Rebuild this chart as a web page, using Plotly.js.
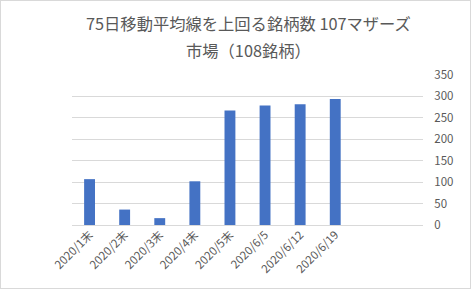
<!DOCTYPE html>
<html><head><meta charset="utf-8">
<script src="https://cdn.plot.ly/plotly-3.0.1.min.js"></script>
<style>
html,body{margin:0;padding:0;background:#fff;}
#chart{width:469px;height:287px;border:1px solid #d9d9d9;}
</style></head>
<body><div id="chart"></div>
<script>
const categories = ["2020/1末","2020/2末","2020/3末","2020/4末","2020/5末","2020/6/5","2020/6/12","2020/6/19"];
const counts = [107, 36, 16, 102, 267, 279, 282, 294];
const yTicks = [0, 50, 100, 150, 200, 250, 300, 350];
const titleLine1 = "75日移動平均線を上回る銘柄数 107マザーズ";
const titleLine2 = "市場（108銘柄）";

const font = "'Noto Sans CJK JP', 'Noto Sans', sans-serif";
const grey = "#595959";

Plotly.newPlot("chart", [{
  type: "bar",
  x: categories,
  y: counts,
  marker: {color: "#4472c4"},
  hoverinfo: "none"
}], {
  width: 469, height: 287,
  margin: {l: 71, r: 47, t: 74, b: 63, pad: 0},
  paper_bgcolor: "#fff", plot_bgcolor: "#fff",
  bargap: 0.69,
  showlegend: false,
  font: {family: font, color: grey, size: 12},
  xaxis: {
    type: "category",
    range: [-0.5, 9.5],
    tickangle: -45,
    showgrid: false,
    zeroline: false,
    showline: false,
    ticks: "",
    tickfont: {size: 11.5, color: grey, family: font}
  },
  yaxis: {
    side: "right",
    range: [0, 350],
    tickvals: yTicks,
    ticktext: yTicks.map(String),
    showgrid: true,
    gridcolor: "#d9d9d9",
    gridwidth: 1,
    zeroline: true,
    zerolinecolor: "#d9d9d9",
    showline: false,
    ticks: "outside",
    ticklen: 8,
    tickcolor: "rgba(0,0,0,0)",
    tickfont: {size: 11.5, color: grey, family: font}
  },
  annotations: [
    {text: titleLine1, xref: "paper", yref: "paper", x: 0.503, y: 1.347, xanchor: "center", yanchor: "middle", showarrow: false, font: {size: 16.3, color: grey, family: font}},
    {text: titleLine2, xref: "paper", yref: "paper", x: 0.503, y: 1.167, xanchor: "center", yanchor: "middle", showarrow: false, font: {size: 16.3, color: grey, family: font}}
  ]
}, {staticPlot: true, displayModeBar: false});
</script></body></html>
